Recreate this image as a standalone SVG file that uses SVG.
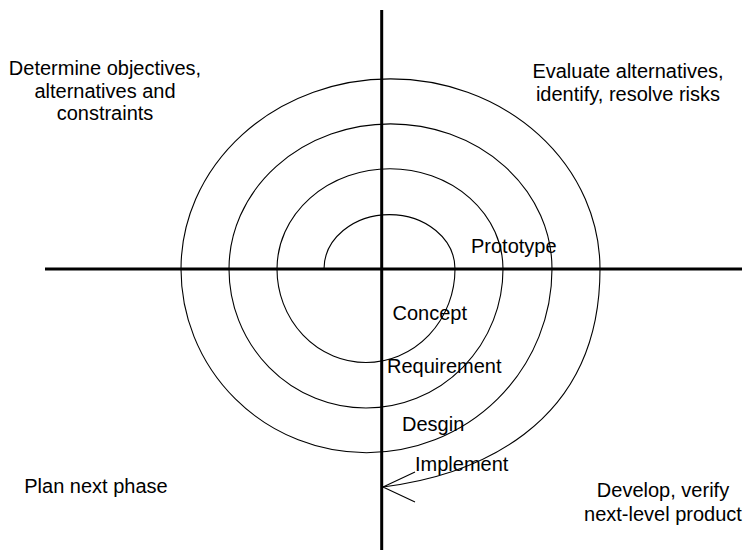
<svg xmlns="http://www.w3.org/2000/svg" width="743" height="556" viewBox="0 0 743 556">
<style>
.axis{stroke:#000;stroke-width:3;fill:none}
.spiral{stroke:#000;stroke-width:1.1;fill:none}
text{font-family:"Liberation Sans",Arial,sans-serif;font-size:20px;fill:#000}
.c{text-anchor:middle}
</style>
<rect width="743" height="556" fill="#fff"/>
<g id="axes">
<line class="axis" x1="45" y1="269" x2="742" y2="269"/>
<line class="axis" x1="381.7" y1="10" x2="381.7" y2="550"/>
</g>
<g id="connectors">
<path id="spiral" class="spiral" d="M324,269 A65.5,54.4 0 0 1 455,269 A89,93.5 0 0 1 277,269 A113,100.3 0 0 1 503,269 A137,139 0 0 1 229,269 A161.5,145.1 0 0 1 552,269 A185.5,183.7 0 0 1 181,269 A209.5,190.1 0 0 1 600,269 C600,430 470,476 383,487"/>
<path id="arrowhead" class="spiral" d="M415,472 L383,487 L415,502"/>
</g>
<g id="q1"><text class="c" x="105" y="75">Determine objectives,</text><text class="c" x="105" y="97.5">alternatives and</text><text class="c" x="105" y="120">constraints</text></g>
<g id="q2"><text class="c" x="628" y="78">Evaluate alternatives,</text><text class="c" x="628" y="100.5">identify, resolve risks</text></g>
<g id="q3"><text class="c" x="96" y="493">Plan next phase</text></g>
<g id="q4"><text class="c" x="663" y="497">Develop, verify</text><text class="c" x="663" y="521">next-level product</text></g>
<g id="prototype"><text x="471" y="253">Prototype</text></g>
<g id="concept"><text x="392.5" y="320">Concept</text></g>
<g id="requirement"><text x="387" y="373">Requirement</text></g>
<g id="design"><text x="402" y="431">Desgin</text></g>
<g id="implement"><text x="415" y="471">Implement</text></g>
</svg>
